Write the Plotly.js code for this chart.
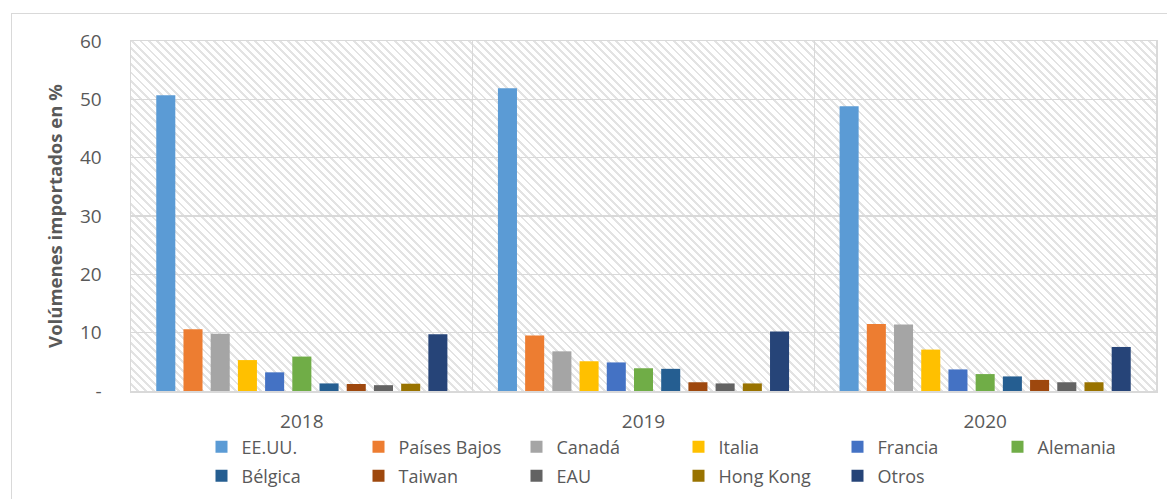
<!DOCTYPE html>
<html>
<head>
<meta charset="utf-8">
<script src="https://cdn.plot.ly/plotly-3.0.1.min.js"></script>
<style>
  html, body { margin: 0; padding: 0; background: #ffffff; }
  #wrap { position: relative; width: 1167px; height: 499px; overflow: hidden; background: #ffffff; }
  #frame { position: absolute; left: 11px; top: 13px; width: 1170px; height: 500px; border: 1px solid #d9d9d9; box-sizing: border-box; }
  #hatch { position: absolute; left: 131px; top: 41px; width: 1025px; height: 350px;
    background: repeating-linear-gradient(45deg, #ffffff 0px, #ffffff 3.8px, #e3e3e3 3.8px, #e3e3e3 5.8px); }
  #chart { position: absolute; left: 0; top: 0; width: 1167px; height: 499px; }
</style>
</head>
<body>
<div id="wrap">
  <div id="frame"></div>
  <div id="hatch"></div>
  <div id="chart"></div>
</div>
<script>
// Categories (years)
const years = ['2018', '2019', '2020'];

// Series (import share, %)
const seriesNames = ['EE.UU.', 'Países Bajos', 'Canadá', 'Italia', 'Francia', 'Alemania',
                     'Bélgica', 'Taiwan', 'EAU', 'Hong Kong', 'Otros'];
const eeuu        = [50.7, 51.9, 48.8];
const paisesBajos = [10.6, 9.5, 11.5];
const canada      = [9.8, 6.8, 11.4];
const italia      = [5.3, 5.1, 7.1];
const francia     = [3.2, 4.9, 3.7];
const alemania    = [5.9, 3.9, 2.9];
const belgica     = [1.3, 3.8, 2.5];
const taiwan      = [1.2, 1.5, 1.9];
const eau         = [1.0, 1.3, 1.5];
const hongKong    = [1.25, 1.3, 1.5];
const otros       = [9.75, 10.2, 7.55];

// Y tick labels
const yTickVals = [0, 10, 20, 30, 40, 50, 60];
const yTickText = ['-', '10', '20', '30', '40', '50', '60'];

const seriesValues = [eeuu, paisesBajos, canada, italia, francia, alemania,
                      belgica, taiwan, eau, hongKong, otros];
const colors = ['#5B9BD5', '#ED7D31', '#A5A5A5', '#FFC000', '#4472C4', '#70AD47',
                '#255E91', '#9E480E', '#636363', '#997300', '#264478'];

const textColor = '#595959';
const font = 'Open Sans, Liberation Sans, Arial, sans-serif';

// Legend grid geometry (pixels in the page)
const W = 1167, H = 499;
const M = { l: 131, r: 11, t: 41, b: 108 };
const plotW = W - M.l - M.r, plotH = H - M.t - M.b;
const legendColPx = [201.5, 358.5, 516.5, 678.5, 837.5, 997.5];
const legendRowPx = [447, 476];

const legendIds = seriesNames.map((_, i) => i === 0 ? 'legend' : 'legend' + (i + 1));

const traces = seriesNames.map((name, i) => ({
  type: 'bar',
  name: name,
  x: years,
  y: seriesValues[i],
  legend: legendIds[i],
  marker: { color: colors[i], line: { width: 0 } },
  hoverinfo: 'name+y'
}));

const layout = {
  width: W,
  height: H,
  margin: { l: M.l, r: M.r, t: M.t, b: M.b, pad: 0, autoexpand: false },
  paper_bgcolor: 'rgba(0,0,0,0)',
  plot_bgcolor: 'rgba(0,0,0,0)',
  barmode: 'group',
  bargap: 0.124,
  bargroupgap: 0.3,
  font: { family: font, color: textColor, size: 18 },
  xaxis: {
    type: 'category',
    tickson: 'boundaries',
    showgrid: true,
    gridcolor: '#d9d9d9',
    gridwidth: 1.5,
    showline: true,
    linecolor: '#d9d9d9',
    linewidth: 1.5,
    mirror: true,
    ticks: '',
    ticklabelstandoff: 13,
    tickfont: { family: font, size: 19, color: textColor },
    fixedrange: true
  },
  yaxis: {
    range: [0, 60],
    tickvals: yTickVals,
    ticktext: yTickText,
    showgrid: true,
    gridcolor: '#d9d9d9',
    gridwidth: 1.5,
    zeroline: false,
    showline: true,
    linecolor: '#d9d9d9',
    linewidth: 1.5,
    mirror: true,
    ticks: '',
    ticklabelstandoff: 24,
    tickfont: { family: font, size: 19, color: textColor },
    title: {
      text: 'Volúmenes importados en %',
      font: { family: font, size: 18.5, color: textColor, weight: 'bold' },
      standoff: 12
    },
    fixedrange: true
  },
  showlegend: true
};

legendIds.forEach((id, i) => {
  const col = i < 6 ? i : i - 6;
  const row = i < 6 ? 0 : 1;
  layout[id] = {
    orientation: 'h',
    x: (legendColPx[col] - M.l) / plotW,
    xanchor: 'left',
    y: (H - M.b - legendRowPx[row]) / plotH,
    yanchor: 'middle',
    bgcolor: 'rgba(0,0,0,0)',
    borderwidth: 0,
    font: { family: font, size: 18, color: textColor }
  };
});

Plotly.newPlot('chart', traces, layout, { displayModeBar: false, staticPlot: true });
</script>
</body>
</html>
